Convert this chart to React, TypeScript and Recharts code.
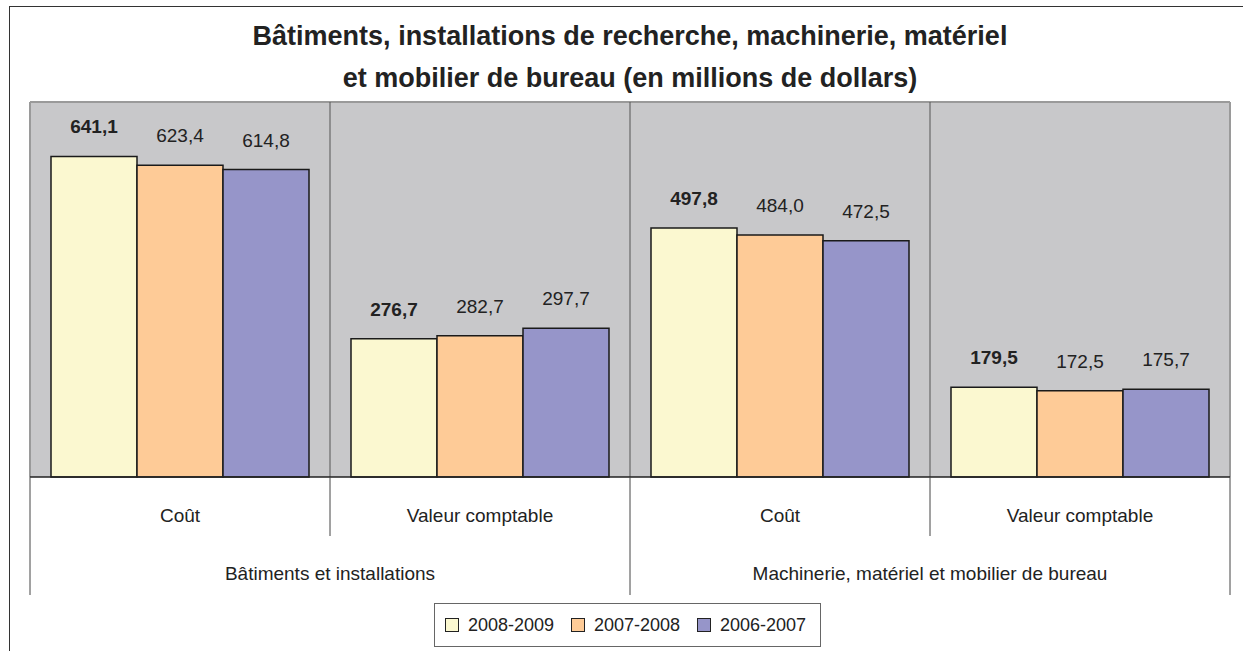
import React from 'react';
import { BarChart, Bar, XAxis, YAxis, CartesianGrid, LabelList } from 'recharts';

// categories (lower axis row) and their parent groups (upper axis row)
const categories = ['Coût', 'Valeur comptable', 'Coût', 'Valeur comptable'];
const groups = [
  'Bâtiments et installations',
  'Bâtiments et installations',
  'Machinerie, matériel et mobilier de bureau',
  'Machinerie, matériel et mobilier de bureau',
];

const years = ['2008-2009', '2007-2008', '2006-2007'];
const values2009 = [641.1, 276.7, 497.8, 179.5];
const values2008 = [623.4, 282.7, 484.0, 172.5];
const values2007 = [614.8, 297.7, 472.5, 175.7];

const colors = ['#FBF8D0', '#FECB97', '#9695C9'];

const W = 1243;
const H = 651;
const margin = { top: 102, right: 13, bottom: 0, left: 30 };
const AXIS_H = 174;
const BAND = (W - margin.left - margin.right) / categories.length;
const FONT = "'Liberation Sans', Arial, Helvetica, sans-serif";

const data = categories.map((cat, i) => ({
  cat,
  grp: groups[i],
  y2009: values2009[i],
  y2008: values2008[i],
  y2007: values2007[i],
}));

const fmt = (v: any) => Number(v).toFixed(1).replace('.', ',');

const AxisTick = (props: any) => {
  const { x, y, payload, index } = props;
  const half = BAND / 2;
  const groupStart = index === 0 || groups[index] !== groups[index - 1];
  const last = index === categories.length - 1;
  return (
    <g>
      <line x1={x - half} x2={x - half} y1={y} y2={y + (groupStart ? 118 : 59)} stroke="#444" strokeWidth={1} />
      {last && <line x1={x + half} x2={x + half} y1={y} y2={y + 118} stroke="#444" strokeWidth={1} />}
      <text x={x} y={y + 45} textAnchor="middle" fontSize={19} fill="#222" fontFamily={FONT}>
        {payload.value}
      </text>
      {groupStart && (
        <text x={x + half} y={y + 103} textAnchor="middle" fontSize={19} fill="#222" fontFamily={FONT}>
          {groups[index]}
        </text>
      )}
    </g>
  );
};

export default function App() {
  const keys = ['y2009', 'y2008', 'y2007'];
  return (
    <div style={{ position: 'absolute', left: 0, top: 0, width: W, height: H, background: '#fff', overflow: 'hidden', fontFamily: FONT }}>
      <div
        style={{
          position: 'absolute', left: 9, top: 6, width: W, height: H,
          borderTop: '1.5px solid #333', borderLeft: '1.5px solid #333',
        }}
      />
      <div
        style={{
          position: 'absolute', left: 30, top: 15, width: 1200, textAlign: 'center',
          fontSize: 27, fontWeight: 'bold', lineHeight: '42px', color: '#222',
        }}
      >
        Bâtiments, installations de recherche, machinerie, matériel
        <br />
        et mobilier de bureau (en millions de dollars)
      </div>
      <div style={{ position: 'absolute', left: 0, top: 0 }}>
        <BarChart width={W} height={H} data={data} margin={margin} barCategoryGap="7%" barGap={0}>
          <CartesianGrid
            fill="#C8C8CA"
            stroke="#9a9a9a"
            strokeWidth={2}
            horizontalCoordinatesGenerator={({ offset }: any) => [offset.top]}
            verticalCoordinatesGenerator={({ offset }: any) => [offset.left, offset.left + offset.width]}
          />
          <CartesianGrid
            fill="none"
            stroke="#555"
            strokeWidth={1}
            horizontal={false}
            verticalCoordinatesGenerator={({ offset }: any) =>
              categories.slice(1).map((_, i) => offset.left + (offset.width * (i + 1)) / categories.length)
            }
          />
          <XAxis
            dataKey="cat"
            height={AXIS_H}
            interval={0}
            tickSize={0}
            tickMargin={0}
            tickLine={false}
            axisLine={{ stroke: '#222', strokeWidth: 1.5 }}
            tick={<AxisTick />}
          />
          <YAxis hide domain={[0, 750]} />
          {keys.map((k, i) => (
            <Bar key={k} dataKey={k} name={years[i]} fill={colors[i]} stroke="#1a1a1a" strokeWidth={1.5} isAnimationActive={false}>
              <LabelList
                dataKey={k}
                position="top"
                offset={23}
                formatter={fmt}
                fill="#222"
                fontSize={19}
                fontWeight={i === 0 ? 'bold' : 'normal'}
                fontFamily={FONT}
              />
            </Bar>
          ))}
        </BarChart>
      </div>
      <div
        style={{
          position: 'absolute', left: 434, top: 603, width: 375, height: 42,
          border: '1px solid #666', display: 'flex', alignItems: 'center', paddingLeft: 10,
          boxSizing: 'content-box', fontSize: 18, color: '#222',
        }}
      >
        {years.map((y, i) => (
          <div key={y} style={{ display: 'flex', alignItems: 'center', width: 126, flex: 'none' }}>
            <span
              style={{
                display: 'inline-block', width: 12, height: 12, background: colors[i],
                border: '1.5px solid #222', marginRight: 9,
              }}
            />
            <span>{y}</span>
          </div>
        ))}
      </div>
    </div>
  );
}
